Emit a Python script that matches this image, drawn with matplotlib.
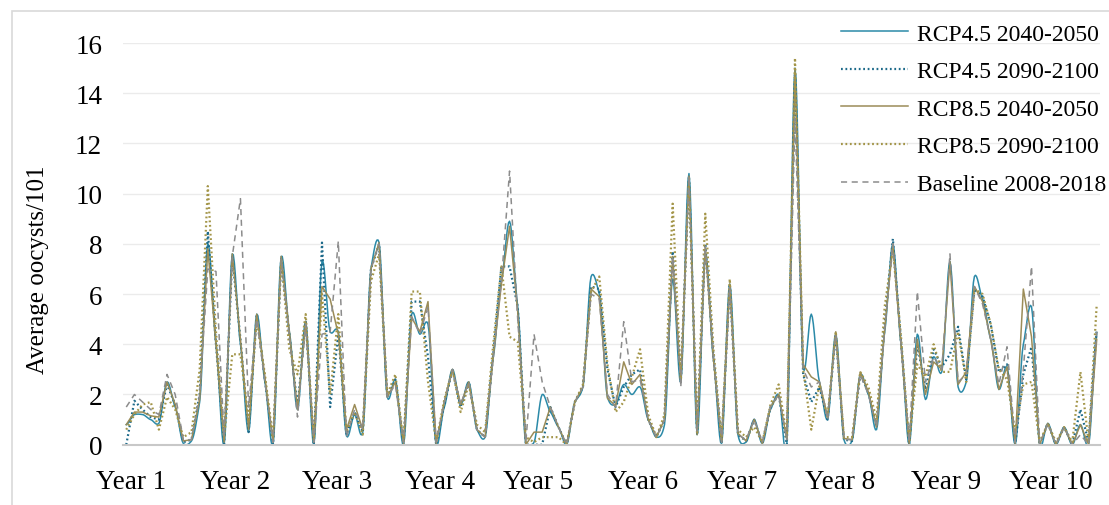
import numpy as np
import matplotlib.pyplot as plt
from matplotlib.patches import Rectangle

# monthly values, 10 years x 12 months
rcp45_mid = [0.8, 1.2, 1.2, 1.0, 0.85, 2.5, 1.5, 0.05, 0.15, 1.7, 8.0, 4.0,
             0.0, 7.6, 4.0, 0.5, 5.2, 2.5, 0.0, 7.5, 4.5, 1.4, 4.9, 0.0,
             7.3, 4.5, 4.5, 0.35, 1.2, 0.5, 7.0, 8.05, 1.9, 2.6, 0.0, 5.2,
             4.4, 4.8, 0.0, 1.5, 3.0, 1.6, 2.5, 0.6, 0.3, 3.5, 6.5, 8.9,
             5.5, 0.0, 0.1, 2.0, 1.3, 0.7, 0.0, 1.7, 2.3, 6.7, 6.0, 1.9,
             1.6, 2.4, 2.0, 2.3, 1.0, 0.3, 0.8, 6.6, 2.5, 10.8, 0.4, 7.6,
             3.4, 0.05, 6.4, 0.4, 0.1, 1.0, 0.05, 1.4, 2.0, 0.0, 15.0, 3.1,
             5.2, 2.5, 1.0, 4.4, 0.2, 0.15, 2.8, 2.0, 0.6, 4.5, 8.0, 4.0,
             0.0, 4.4, 1.8, 3.5, 2.9, 7.3, 2.3, 2.5, 6.7, 5.8, 4.2, 2.2,
             3.1, 0.0, 4.0, 5.5, 0.0, 0.85, 0.0, 0.7, 0.0, 0.8, 0.0, 4.4]

rcp45_late = [0.0, 1.75, 1.4, 1.1, 1.0, 2.4, 1.6, 0.1, 0.2, 2.0, 8.5, 4.0,
              0.0, 7.5, 4.2, 0.5, 5.2, 2.6, 0.0, 7.4, 4.4, 1.5, 4.9, 0.0,
              8.05, 1.5, 4.4, 0.4, 1.3, 0.5, 7.0, 8.0, 1.9, 2.6, 0.0, 5.7,
              5.7, 3.5, 0.0, 1.6, 3.0, 1.5, 2.5, 0.6, 0.3, 3.6, 7.1, 7.1,
              5.5, 0.0, 0.0, 0.0, 1.5, 0.7, 0.0, 1.7, 2.3, 6.3, 6.2, 3.0,
              1.5, 2.3, 2.8, 3.0, 1.0, 0.3, 1.0, 7.7, 2.5, 10.7, 0.4, 8.0,
              3.5, 0.05, 6.4, 0.4, 0.15, 1.0, 0.05, 1.5, 2.0, 0.0, 14.8, 2.8,
              1.7, 2.3, 1.0, 4.4, 0.2, 0.15, 2.8, 2.1, 0.7, 4.8, 8.2, 4.1,
              0.0, 4.0, 2.2, 3.8, 3.1, 3.6, 4.7, 2.6, 6.2, 5.9, 4.8, 2.9,
              3.2, 0.0, 2.8, 3.9, 0.0, 0.85, 0.0, 0.7, 0.0, 1.4, 0.1, 4.6]

rcp85_mid = [0.8, 1.3, 1.3, 1.15, 1.1, 2.5, 1.6, 0.15, 0.2, 1.8, 7.8, 4.0,
             0.1, 7.6, 4.2, 0.6, 5.2, 2.7, 0.1, 7.5, 4.5, 1.4, 4.9, 0.1,
             6.3, 5.8, 4.4, 0.6, 1.6, 0.6, 7.0, 8.05, 1.9, 2.5, 0.05, 5.05,
             4.5, 5.7, 0.05, 1.7, 3.0, 1.6, 2.5, 0.6, 0.3, 3.5, 6.4, 8.7,
             5.3, 0.0, 0.5, 0.5, 1.5, 0.7, 0.0, 1.7, 2.3, 6.2, 5.9, 1.85,
             1.55, 3.3, 2.4, 2.8, 1.0, 0.3, 1.0, 7.5, 2.5, 10.7, 0.4, 7.9,
             3.4, 0.1, 6.4, 0.45, 0.15, 1.0, 0.05, 1.5, 2.0, 0.2, 14.9, 3.2,
             2.7, 2.5, 1.1, 4.5, 0.25, 0.2, 2.9, 2.1, 0.7, 4.6, 8.0, 4.0,
             0.05, 4.2, 2.0, 3.3, 3.0, 7.3, 2.4, 2.9, 6.3, 5.7, 4.2, 2.2,
             3.1, 0.05, 6.2, 4.3, 0.0, 0.85, 0.0, 0.7, 0.0, 0.8, 0.0, 4.2]

rcp85_late = [0.6, 1.2, 1.6, 1.7, 0.6, 1.9, 1.4, 0.3, 0.5, 3.0, 10.3, 4.5,
              0.3, 3.6, 3.6, 1.0, 5.0, 2.8, 0.2, 7.4, 3.8, 2.8, 5.2, 0.1,
              6.0, 2.0, 5.2, 0.5, 1.3, 0.4, 6.5, 7.6, 2.0, 2.8, 0.1, 6.1,
              6.1, 2.5, 0.1, 1.8, 3.0, 1.3, 2.4, 0.8, 0.5, 4.0, 7.1, 4.3,
              4.1, 0.3, 0.1, 0.3, 0.3, 0.3, 0.0, 1.7, 2.4, 6.1, 6.7, 3.2,
              1.3, 1.7, 2.7, 3.8, 1.2, 0.3, 1.2, 9.6, 2.6, 10.6, 0.5, 9.2,
              3.8, 0.2, 6.6, 0.6, 0.3, 0.7, 0.1, 1.6, 2.4, 0.3, 15.4, 3.0,
              0.6, 2.4, 1.1, 4.5, 0.3, 0.3, 2.9, 2.3, 1.0, 5.5, 7.8, 4.3,
              0.1, 3.2, 2.7, 4.0, 2.9, 2.9, 4.5, 2.5, 6.2, 6.0, 4.8, 3.0,
              2.6, 0.5, 2.4, 2.5, 0.1, 0.85, 0.1, 0.7, 0.1, 2.9, 0.1, 5.6]

baseline = [1.5, 2.0, 1.7, 1.4, 1.2, 2.8, 2.0, 0.2, 0.2, 2.0, 7.0, 6.9,
            0.3, 7.5, 9.8, 1.5, 5.0, 2.5, 0.1, 7.4, 4.3, 1.1, 4.8, 0.1,
            4.4, 4.5, 8.1, 0.3, 1.4, 0.6, 7.0, 8.0, 1.9, 2.4, 0.1, 5.1,
            4.4, 5.5, 0.1, 1.7, 3.0, 1.6, 2.5, 0.6, 0.3, 3.5, 6.5, 10.9,
            5.0, 0.1, 4.4, 2.5, 1.5, 0.7, 0.0, 1.7, 2.3, 6.0, 5.8, 2.0,
            1.5, 4.9, 2.5, 2.6, 1.0, 0.3, 1.0, 7.5, 2.3, 10.7, 0.5, 7.9,
            3.5, 0.1, 6.3, 0.4, 0.2, 1.0, 0.1, 1.5, 2.0, 0.2, 13.0, 3.0,
            2.3, 2.5, 1.0, 4.4, 0.2, 0.2, 2.8, 2.0, 0.7, 4.6, 8.0, 4.0,
            0.1, 6.1, 2.5, 3.5, 3.0, 7.6, 2.5, 2.8, 6.3, 5.6, 4.2, 2.4,
            3.9, 0.1, 3.0, 7.1, 0.0, 0.85, 0.0, 0.7, 0.0, 0.4, 0.0, 4.5]

year_labels = ["Year 1", "Year 2", "Year 3", "Year 4", "Year 5",
               "Year 6", "Year 7", "Year 8", "Year 9", "Year 10"]
year_pos = [0.6, 13.4, 25.9, 38.5, 50.5, 63.4, 75.5, 87.5, 100.5, 113.4]


# smoothed line through the points (cardinal spline, low tension)
def smooth(y, n=8, k=0.5):
    y = np.asarray(y, dtype=float)
    p = np.concatenate([[y[0]], y, [y[-1]]])
    xs, ys = [], []
    t = np.linspace(0, 1, n, endpoint=False)
    h00 = 2 * t**3 - 3 * t**2 + 1
    h10 = t**3 - 2 * t**2 + t
    h01 = -2 * t**3 + 3 * t**2
    h11 = t**3 - t**2
    for i in range(len(y) - 1):
        p0, p1, p2, p3 = p[i], p[i + 1], p[i + 2], p[i + 3]
        m1 = k * (p2 - p0) / 2
        m2 = k * (p3 - p1) / 2
        xs.extend(i + t)
        ys.extend(h00 * p1 + h10 * m1 + h01 * p2 + h11 * m2)
    xs.append(len(y) - 1)
    ys.append(y[-1])
    return np.array(xs), np.array(ys)


plt.rcParams['font.family'] = ['Liberation Serif', 'DejaVu Serif']

fig = plt.figure(figsize=(11.09, 5.06), dpi=100)
# outer chart border
fig.patches.append(Rectangle((12 / 1109, -0.1), 1.2, (506 - 12) / 506 + 0.1,
                             transform=fig.transFigure, fill=False,
                             edgecolor="#d9d9d9", linewidth=1.2))
ax = fig.add_axes([123 / 1109, (506 - 445.7) / 506, 977 / 1109, 401.7 / 506])

x = np.arange(len(rcp45_mid))
sx, sy = smooth(rcp45_mid)
ax.plot(sx, sy, color="#2b8aa8", lw=1.1, label="RCP4.5 2040-2050")
ax.plot(x, rcp45_late, color="#1d6a8a", lw=1.6, ls=(0, (0.8, 1.2)),
        label="RCP4.5 2090-2100")
ax.plot(x, rcp85_mid, color="#9b8c58", lw=1.1, label="RCP8.5 2040-2050")
ax.plot(x, rcp85_late, color="#a39548", lw=1.6, ls=(0, (0.8, 1.2)),
        label="RCP8.5 2090-2100")
ax.plot(x, baseline, color="#8c8c8c", lw=1.1, ls=(0, (4, 3)),
        label="Baseline 2008-2018")

ax.set_xlim(-0.4, 119.4)
ax.set_ylim(0, 16)
ax.set_yticks(range(0, 17, 2))
ax.set_xticks(year_pos)
ax.set_xticklabels(year_labels)
ax.tick_params(axis="both", length=0, labelsize=19.5, colors="black")
ax.tick_params(axis="y", pad=15)
ax.tick_params(axis="x", pad=17.5)
ax.grid(axis="y", color="#ebebeb", lw=1.0)
ax.set_axisbelow(True)
for s in ["top", "right", "left"]:
    ax.spines[s].set_visible(False)
ax.spines["bottom"].set_color("#c8c8c8")
ax.spines["bottom"].set_linewidth(1.5)
ax.set_ylabel("Average oocysts/101", fontsize=18, va="center")
ax.yaxis.set_label_coords(-0.087, 0.437)

leg = ax.legend(loc="upper left", bbox_to_anchor=(841 / 1109, (506 - 24) / 506),
                bbox_transform=fig.transFigure, frameon=False, fontsize=17,
                handlelength=2.85, handletextpad=0.38, labelspacing=0.68,
                borderpad=0, borderaxespad=0)

fig.savefig("out.png", dpi=100)
